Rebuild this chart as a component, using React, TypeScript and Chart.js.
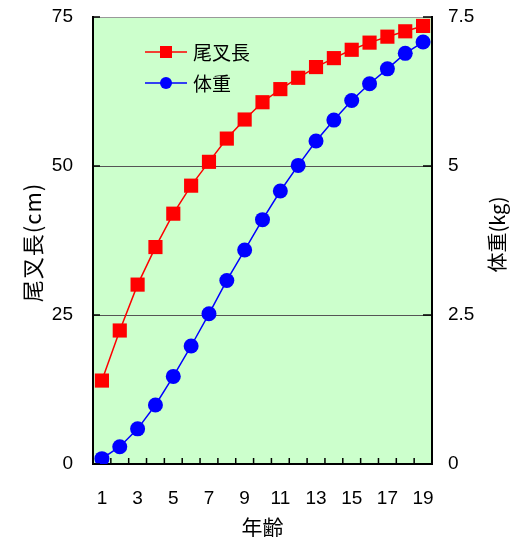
import React, { useEffect, useRef } from "react";
import { Chart, registerables } from "chart.js";

Chart.register(...registerables);

const ages = ["1","2","3","4","5","6","7","8","9","10","11","12","13","14","15","16","17","18","19"];
const forkLength = [14.0, 22.4, 30.1, 36.4, 42.0, 46.7, 50.7, 54.6, 57.8, 60.7, 62.9, 64.8, 66.6, 68.1, 69.5, 70.7, 71.7, 72.6, 73.5];
const bodyWeight = [0.09, 0.29, 0.59, 0.99, 1.47, 1.98, 2.52, 3.08, 3.59, 4.10, 4.58, 5.01, 5.42, 5.77, 6.10, 6.38, 6.63, 6.89, 7.08];
const seriesNames = ["尾叉長", "体重"];
const leftTitle = "尾叉長(cm)";
const rightTitle = "体重(kg)";
const xTitle = "年齢";

const NUM_FONT = '"Liberation Sans", Arial, sans-serif';
const CJK_FONT = '"Noto Sans CJK JP", "Noto Sans", sans-serif';

const framePlugin = {
  id: "frame",
  beforeDraw(chart: any) {
    const { ctx, chartArea: a } = chart;
    ctx.save();
    ctx.fillStyle = "#ccffcc";
    ctx.fillRect(a.left, a.top, a.right - a.left, a.bottom - a.top);
    ctx.restore();
  },
  afterDraw(chart: any) {
    const { ctx, chartArea: a } = chart;
    const xs = chart.scales.x;
    const yl = chart.scales.y;
    const yr = chart.scales.y1;
    ctx.save();
    ctx.strokeStyle = "#000";
    ctx.lineWidth = 1.5;
    ctx.beginPath();
    for (let i = 0; i < ages.length - 1; i++) {
      const px = (xs.getPixelForValue(i) + xs.getPixelForValue(i + 1)) / 2;
      ctx.moveTo(px, a.bottom);
      ctx.lineTo(px, a.bottom - 6);
    }
    yl.ticks.forEach((t: any) => {
      const py = yl.getPixelForValue(t.value);
      ctx.moveTo(a.left, py);
      ctx.lineTo(a.left + 7, py);
    });
    yr.ticks.forEach((t: any) => {
      const py = yr.getPixelForValue(t.value);
      ctx.moveTo(a.right, py);
      ctx.lineTo(a.right - 9, py);
    });
    ctx.stroke();

    const colors = ["#ff0000", "#0000ff"];
    const rows = [a.top + 35, a.top + 66];
    for (let i = 0; i < 2; i++) {
      const y = rows[i];
      const x0 = a.left + 52;
      const x1 = a.left + 94;
      const cx = (x0 + x1) / 2;
      ctx.strokeStyle = colors[i];
      ctx.lineWidth = 1.5;
      ctx.beginPath();
      ctx.moveTo(x0, y);
      ctx.lineTo(x1, y);
      ctx.stroke();
      ctx.fillStyle = colors[i];
      ctx.beginPath();
      if (i === 0) {
        ctx.rect(cx - 6, y - 6, 12, 12);
      } else {
        ctx.arc(cx, y, 6, 0, Math.PI * 2);
      }
      ctx.fill();
      ctx.fillStyle = "#000";
      ctx.font = `19px ${CJK_FONT}`;
      ctx.textAlign = "left";
      ctx.textBaseline = "middle";
      ctx.fillText(seriesNames[i], x1 + 6, y + 1);
    }

    const cy = (a.top + a.bottom) / 2;
    ctx.fillStyle = "#000";
    ctx.textAlign = "center";
    ctx.textBaseline = "middle";
    ctx.save();
    ctx.font = `22px ${CJK_FONT}`;
    (ctx as any).letterSpacing = "1px";
    ctx.translate(33, cy + 2);
    ctx.rotate(-Math.PI / 2);
    ctx.fillText(leftTitle, 0, 0);
    ctx.restore();
    ctx.save();
    ctx.font = `20px ${CJK_FONT}`;
    ctx.translate(a.right + 65, cy - 6);
    ctx.rotate(-Math.PI / 2);
    ctx.fillText(rightTitle, 0, 0);
    ctx.restore();
    ctx.font = `21px ${CJK_FONT}`;
    ctx.fillText(xTitle, (a.left + a.right) / 2, a.bottom + 63);
    ctx.restore();
  },
};

export default function App() {
  const ref = useRef<HTMLCanvasElement | null>(null);
  useEffect(() => {
    if (!ref.current) return;
    const chart = new Chart(ref.current, {
      type: "line",
      data: {
        labels: ages,
        datasets: [
          {
            label: seriesNames[0],
            data: forkLength,
            yAxisID: "y",
            borderColor: "#ff0000",
            backgroundColor: "#ff0000",
            borderWidth: 1.5,
            pointStyle: "rect",
            pointRadius: 10,
            pointBorderWidth: 0,
            pointBackgroundColor: "#ff0000",
            tension: 0,
            order: 2,
          },
          {
            label: seriesNames[1],
            data: bodyWeight,
            yAxisID: "y1",
            borderColor: "#0000ff",
            backgroundColor: "#0000ff",
            borderWidth: 1.5,
            pointStyle: "circle",
            pointRadius: 7.5,
            pointBorderWidth: 0,
            pointBackgroundColor: "#0000ff",
            tension: 0,
            order: 1,
          },
        ],
      },
      options: {
        responsive: false,
        animation: false,
        layout: { padding: { top: 17, left: 0, right: 0, bottom: 0 } },
        plugins: { legend: { display: false }, tooltip: { enabled: false } },
        scales: {
          x: {
            type: "category",
            offset: true,
            grid: { display: false, drawTicks: false },
            border: { display: true, color: "#000", width: 2 },
            ticks: {
              autoSkip: false,
              maxRotation: 0,
              padding: 23,
              color: "#000",
              font: { family: NUM_FONT, size: 19 },
              callback: (_v: any, i: number) => (i % 2 === 0 ? ages[i] : ""),
            },
            afterFit: (s: any) => { s.height = 73; s.paddingLeft = 0; s.paddingRight = 0; },
          },
          y: {
            position: "left",
            min: 0,
            max: 75,
            grid: {
              drawTicks: false,
              color: (c: any) => (c.tick && c.tick.value === 0 ? "rgba(0,0,0,0)" : c.tick && c.tick.value === 75 ? "#999" : "#555"),
              lineWidth: 1,
            },
            border: { display: true, color: "#000", width: 2 },
            ticks: {
              stepSize: 25,
              padding: 20,
              color: "#000",
              font: { family: NUM_FONT, size: 19 },
            },
            afterFit: (s: any) => { s.width = 93; s.paddingTop = 0; s.paddingBottom = 0; },
          },
          y1: {
            position: "right",
            min: 0,
            max: 7.5,
            grid: { drawOnChartArea: false, drawTicks: false },
            border: { display: true, color: "#000", width: 2 },
            ticks: {
              stepSize: 2.5,
              padding: 16,
              color: "#000",
              font: { family: NUM_FONT, size: 19 },
            },
            afterFit: (s: any) => { s.width = 89; s.paddingTop = 0; s.paddingBottom = 0; },
          },
        },
      },
      plugins: [framePlugin],
    });
    return () => chart.destroy();
  }, []);
  return (
    <canvas
      ref={ref}
      width={521}
      height={537}
      style={{ position: "absolute", left: 0, top: 0, width: 521, height: 537, display: "block" }}
    />
  );
}
